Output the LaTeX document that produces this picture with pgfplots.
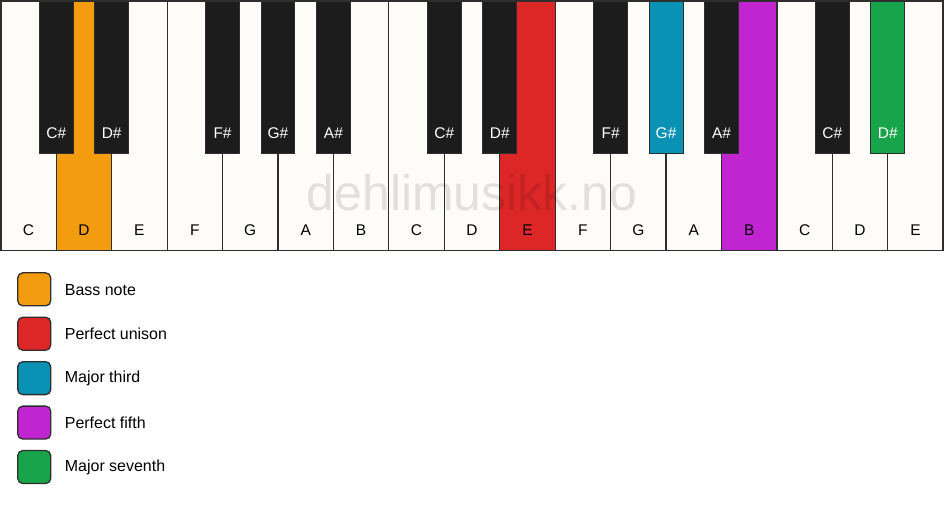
\documentclass[border=0pt]{standalone}
\usepackage{pgfplots}
\pgfplotsset{compat=1.18}
\usepackage{fontspec}
\setmainfont{Liberation Sans}
\definecolor{whitekey}{HTML}{FDFCF8}
\definecolor{blackkey}{HTML}{1C1C1C}
\definecolor{keyline}{HTML}{2E2E2E}
\definecolor{cbass}{HTML}{F39C0F}
\definecolor{cunison}{HTML}{DD2727}
\definecolor{cthird}{HTML}{0A92B5}
\definecolor{cfifth}{HTML}{C124D1}
\definecolor{cseventh}{HTML}{18A44B}
\tikzset{wl/.style={font=\fontsize{15.5bp}{18bp}\selectfont, text=black},
         bl/.style={font=\fontsize{15.5bp}{18bp}\selectfont, text=white},
         lg/.style={anchor=west, inner sep=0pt, font=\fontsize{16bp}{19bp}\selectfont}}
\begin{document}
\begin{tikzpicture}
\begin{axis}[
  width=944bp, height=506bp, scale only axis,
  xmin=0, xmax=944, ymin=0, ymax=506, y dir=reverse,
  axis lines=none, clip=false,
]
\path (axis cs:0,0) rectangle (axis cs:944,506);
% white keys
\addplot[ybar interval, fill=whitekey, draw=keyline, line width=1.2bp] coordinates {
 (0,250) (55.53,250) (111.06,250) (166.59,250) (222.12,250) (277.65,250)
 (333.18,250) (388.71,250) (444.24,250) (499.76,250) (555.29,250) (610.82,250)
 (666.35,250) (721.88,250) (777.41,250) (832.94,250) (888.47,250) (944,250)};
% coloured white keys
\addplot[ybar interval, fill=cbass, draw=keyline, line width=1.2bp] coordinates {(55.53,250) (111.06,250)};
\addplot[ybar interval, fill=cunison, draw=keyline, line width=1.2bp] coordinates {(499.76,250) (555.29,250)};
\addplot[ybar interval, fill=cfifth, draw=keyline, line width=1.2bp] coordinates {(721.88,250) (777.41,250)};
% black keys
\addplot[ybar, bar width=34, bar shift=0, fill=blackkey, draw=keyline, line width=1bp] coordinates {
 (55.53,153) (111.06,153) (222.12,153) (277.65,153) (333.18,153)
 (444.24,153) (499.76,153) (610.82,153) (721.88,153) (832.94,153)};
\addplot[ybar, bar width=34, bar shift=0, fill=cthird, draw=keyline, line width=1bp] coordinates {(666.35,153)};
\addplot[ybar, bar width=34, bar shift=0, fill=cseventh, draw=keyline, line width=1bp] coordinates {(888.47,153)};
% outer frame
\draw[keyline, line width=1.6bp] (axis cs:0,0) rectangle (axis cs:944,250);
% white key labels
\node[wl] at (axis cs:27.76,230) {C};
\node[wl] at (axis cs:83.29,230) {D};
\node[wl] at (axis cs:138.82,230) {E};
\node[wl] at (axis cs:194.35,230) {F};
\node[wl] at (axis cs:249.88,230) {G};
\node[wl] at (axis cs:305.41,230) {A};
\node[wl] at (axis cs:360.94,230) {B};
\node[wl] at (axis cs:416.47,230) {C};
\node[wl] at (axis cs:472.0,230) {D};
\node[wl] at (axis cs:527.53,230) {E};
\node[wl] at (axis cs:583.06,230) {F};
\node[wl] at (axis cs:638.59,230) {G};
\node[wl] at (axis cs:694.12,230) {A};
\node[wl] at (axis cs:749.65,230) {B};
\node[wl] at (axis cs:805.18,230) {C};
\node[wl] at (axis cs:860.71,230) {D};
\node[wl] at (axis cs:916.24,230) {E};
% black key labels
\node[bl] at (axis cs:55.53,133) {C\#};
\node[bl] at (axis cs:111.06,133) {D\#};
\node[bl] at (axis cs:222.12,133) {F\#};
\node[bl] at (axis cs:277.65,133) {G\#};
\node[bl] at (axis cs:333.18,133) {A\#};
\node[bl] at (axis cs:444.24,133) {C\#};
\node[bl] at (axis cs:499.76,133) {D\#};
\node[bl] at (axis cs:610.82,133) {F\#};
\node[bl] at (axis cs:666.35,133) {G\#};
\node[bl] at (axis cs:721.88,133) {A\#};
\node[bl] at (axis cs:832.94,133) {C\#};
\node[bl] at (axis cs:888.47,133) {D\#};
% watermark
\node[font=\fontsize{50bp}{58bp}\selectfont, text=black, text opacity=0.11] at (axis cs:472,192) {dehlimusikk.no};
% legend swatches
\addplot[fill=cbass, draw=keyline, line width=1.3bp, rounded corners=5bp] coordinates {(17,272.5) (50,272.5) (50,305.5) (17,305.5)} -- cycle;
\addplot[fill=cunison, draw=keyline, line width=1.3bp, rounded corners=5bp] coordinates {(17,317) (50,317) (50,350) (17,350)} -- cycle;
\addplot[fill=cthird, draw=keyline, line width=1.3bp, rounded corners=5bp] coordinates {(17,361.5) (50,361.5) (50,394.5) (17,394.5)} -- cycle;
\addplot[fill=cfifth, draw=keyline, line width=1.3bp, rounded corners=5bp] coordinates {(17,406) (50,406) (50,439) (17,439)} -- cycle;
\addplot[fill=cseventh, draw=keyline, line width=1.3bp, rounded corners=5bp] coordinates {(17,450.5) (50,450.5) (50,483.5) (17,483.5)} -- cycle;
\node[lg] at (axis cs:64,289.5) {Bass note};
\node[lg] at (axis cs:64,334) {Perfect unison};
\node[lg] at (axis cs:64,378.5) {Major third};
\node[lg] at (axis cs:64,423) {Perfect fifth};
\node[lg] at (axis cs:64,467.5) {Major seventh};
\end{axis}
\end{tikzpicture}
\end{document}
